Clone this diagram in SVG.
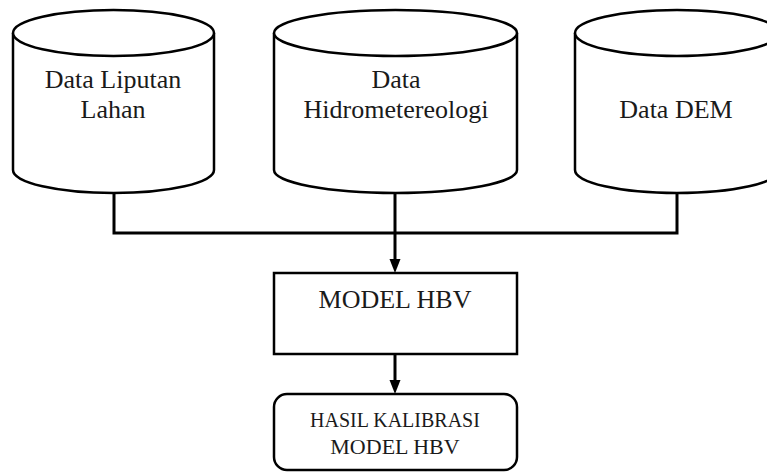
<svg xmlns="http://www.w3.org/2000/svg" width="767" height="473" viewBox="0 0 767 473">
<style>
.shape{fill:#fff;stroke:#000;stroke-width:2.5}
.conn{fill:none;stroke:#000;stroke-width:3}
.arrow{fill:none;stroke:#000;stroke-width:3;marker-end:url(#arr)}
text{font-family:"Liberation Serif","Times New Roman",serif;fill:#1a1a1a;text-anchor:middle}
.big{font-size:26px}
</style>
<defs>
<marker id="arr" markerUnits="userSpaceOnUse" markerWidth="12" markerHeight="14" refX="6" refY="0" orient="0" viewBox="0 0 12 14" overflow="visible">
<path d="M0.5,0 L11.5,0 L6,14 Z" fill="#000"/>
</marker>
</defs>
<rect width="767" height="473" fill="#fff"/>
<g id="connectors">
<path class="conn" d="M114,193 V233 H677 V193"/>
<path class="arrow" d="M395,193 V259"/>
<path class="arrow" d="M395,354 V380"/>
</g>
<g id="cyl1">
<path class="shape" d="M13,33 V170 A100.5,23 0 0 0 214,170 V33"/>
<ellipse class="shape" cx="113.5" cy="33" rx="100.5" ry="23"/>
<text class="big" x="113" y="88">Data Liputan</text>
<text class="big" x="113" y="118">Lahan</text>
</g>
<g id="cyl2">
<path class="shape" d="M274,33 V170 A121.5,23 0 0 0 517,170 V33"/>
<ellipse class="shape" cx="395.5" cy="33" rx="121.5" ry="23"/>
<text class="big" x="396" y="88">Data</text>
<text class="big" x="396" y="118">Hidrometereologi</text>
</g>
<g id="cyl3">
<path class="shape" d="M575,33 V170 A102,23 0 0 0 779,170 V33"/>
<ellipse class="shape" cx="677" cy="33" rx="102" ry="23"/>
<text class="big" x="676" y="118">Data DEM</text>
</g>
<g id="model">
<rect class="shape" x="274" y="273" width="243" height="81"/>
<text class="big" x="395" y="308">MODEL HBV</text>
</g>
<g id="hasil">
<rect class="shape" x="274" y="394" width="243" height="76" rx="13" ry="13"/>
<text x="395" y="427" font-size="20">HASIL KALIBRASI</text>
<text x="395" y="454" font-size="22">MODEL HBV</text>
</g>
</svg>
